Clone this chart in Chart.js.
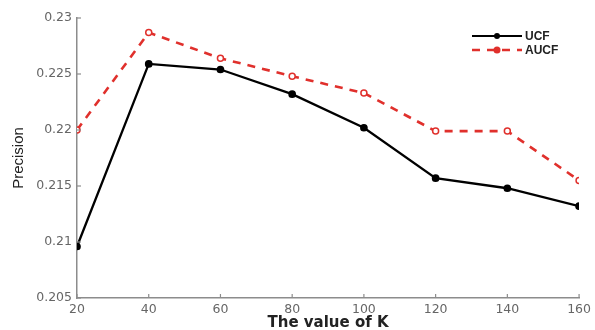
<!DOCTYPE html>
<html>
<head>
<meta charset="utf-8">
<script src="https://cdn.jsdelivr.net/npm/chart.js@4/dist/chart.umd.min.js"></script>
<style>
html,body{margin:0;padding:0;background:#fff;}
#wrap{width:595px;height:330px;position:relative;}
</style>
</head>
<body>
<div id="wrap"><canvas id="c" width="595" height="330"></canvas></div>
<script>
const kValues = [20, 40, 60, 80, 100, 120, 140, 160];
const ucf  = [0.2096, 0.2259, 0.2254, 0.2232, 0.2202, 0.2157, 0.2148, 0.2132];
const aucf = [0.2200, 0.2287, 0.2264, 0.2248, 0.2233, 0.2199, 0.2199, 0.2155];
const yTicks = [0.205, 0.21, 0.215, 0.22, 0.225, 0.23];
const xTicks = [20, 40, 60, 80, 100, 120, 140, 160];
const seriesNames = ['UCF', 'AUCF'];

const axisColor = '#8c8c8c';
const labelColor = '#666';
const redColor = '#e0302c';
const tickFont = {family: '"DejaVu Sans", sans-serif', size: 12.5};

const innerTicks = {
  id: 'innerTicks',
  afterDraw(chart) {
    const ctx = chart.ctx, x = chart.scales.x, y = chart.scales.y;
    ctx.save();
    ctx.strokeStyle = axisColor;
    ctx.lineWidth = 1.2;
    xTicks.forEach(v => {
      const px = x.getPixelForValue(v);
      ctx.beginPath(); ctx.moveTo(px, y.bottom); ctx.lineTo(px, y.bottom - 4); ctx.stroke();
    });
    yTicks.forEach(v => {
      const py = y.getPixelForValue(v);
      ctx.beginPath(); ctx.moveTo(x.left, py); ctx.lineTo(x.left + 4, py); ctx.stroke();
    });
    // legend
    const lx0 = 472, lx1 = 522, rows = [36, 50];
    ctx.font = 'bold 12px "Liberation Sans", Arial, sans-serif';
    ctx.textBaseline = 'middle';
    // UCF
    ctx.strokeStyle = '#000'; ctx.lineWidth = 2; ctx.setLineDash([]);
    ctx.beginPath(); ctx.moveTo(lx0, rows[0]); ctx.lineTo(lx1, rows[0]); ctx.stroke();
    ctx.fillStyle = '#000';
    ctx.beginPath(); ctx.arc((lx0 + lx1) / 2, rows[0], 3, 0, Math.PI * 2); ctx.fill();
    // AUCF
    ctx.strokeStyle = redColor; ctx.lineWidth = 2.5; ctx.setLineDash([8, 7]);
    ctx.beginPath(); ctx.moveTo(lx0, rows[1]); ctx.lineTo(lx1, rows[1]); ctx.stroke();
    ctx.setLineDash([]);
    ctx.fillStyle = redColor;
    ctx.beginPath(); ctx.arc((lx0 + lx1) / 2, rows[1], 3.5, 0, Math.PI * 2); ctx.fill();
    ctx.fillStyle = '#222';
    ctx.fillText(seriesNames[0], lx1 + 3, rows[0] + 1);
    ctx.fillText(seriesNames[1], lx1 + 3, rows[1] + 1);
    ctx.restore();
  }
};

new Chart(document.getElementById('c'), {
  type: 'line',
  data: {
    datasets: [
      {
        label: seriesNames[0],
        data: kValues.map((k, i) => ({x: k, y: ucf[i]})),
        borderColor: '#000',
        backgroundColor: '#000',
        borderWidth: 2.3,
        pointRadius: 2.7,
        pointBackgroundColor: '#000',
        pointBorderColor: '#000',
        tension: 0
      },
      {
        label: seriesNames[1],
        data: kValues.map((k, i) => ({x: k, y: aucf[i]})),
        borderColor: redColor,
        backgroundColor: redColor,
        borderWidth: 2.6,
        borderDash: [8, 7],
        pointRadius: 3,
        pointBorderWidth: 1.5,
        pointBackgroundColor: '#fff',
        pointBorderColor: redColor,
        tension: 0
      }
    ]
  },
  options: {
    responsive: false,
    animation: false,
    layout: {padding: {top: 18, right: 11, left: 0, bottom: 0}},
    plugins: {legend: {display: false}, tooltip: {enabled: false}},
    scales: {
      x: {
        type: 'linear',
        min: 20, max: 160,
        afterBuildTicks: s => { s.ticks = xTicks.map(v => ({value: v})); },
        grid: {display: true, drawOnChartArea: false, drawTicks: false},
        border: {display: true, color: axisColor, width: 1.5},
        ticks: {color: labelColor, font: tickFont, padding: 4, maxRotation: 0},
        title: {display: true, text: 'The value of K', color: '#222', font: {family: '"DejaVu Sans", sans-serif', size: 15, weight: 'bold'}, padding: {top: 0, bottom: -2}},
        afterFit: s => { s.height = 32; }
      },
      y: {
        type: 'linear',
        min: 0.205, max: 0.23,
        afterBuildTicks: s => { s.ticks = yTicks.map(v => ({value: v})); },
        grid: {display: true, drawOnChartArea: false, drawTicks: false},
        border: {display: true, color: axisColor, width: 1.5},
        ticks: {color: labelColor, font: tickFont, padding: 5,
          callback: v => String(parseFloat(Number(v).toFixed(3)))},
        title: {display: true, text: 'Precision', color: '#222', font: {family: '"Liberation Sans Narrow", "Liberation Sans", Arial, sans-serif', size: 15}, padding: {top: 10, bottom: 2}},
        afterFit: s => { s.width = 77; }
      }
    }
  },
  plugins: [innerTicks]
});
</script>
</body>
</html>
